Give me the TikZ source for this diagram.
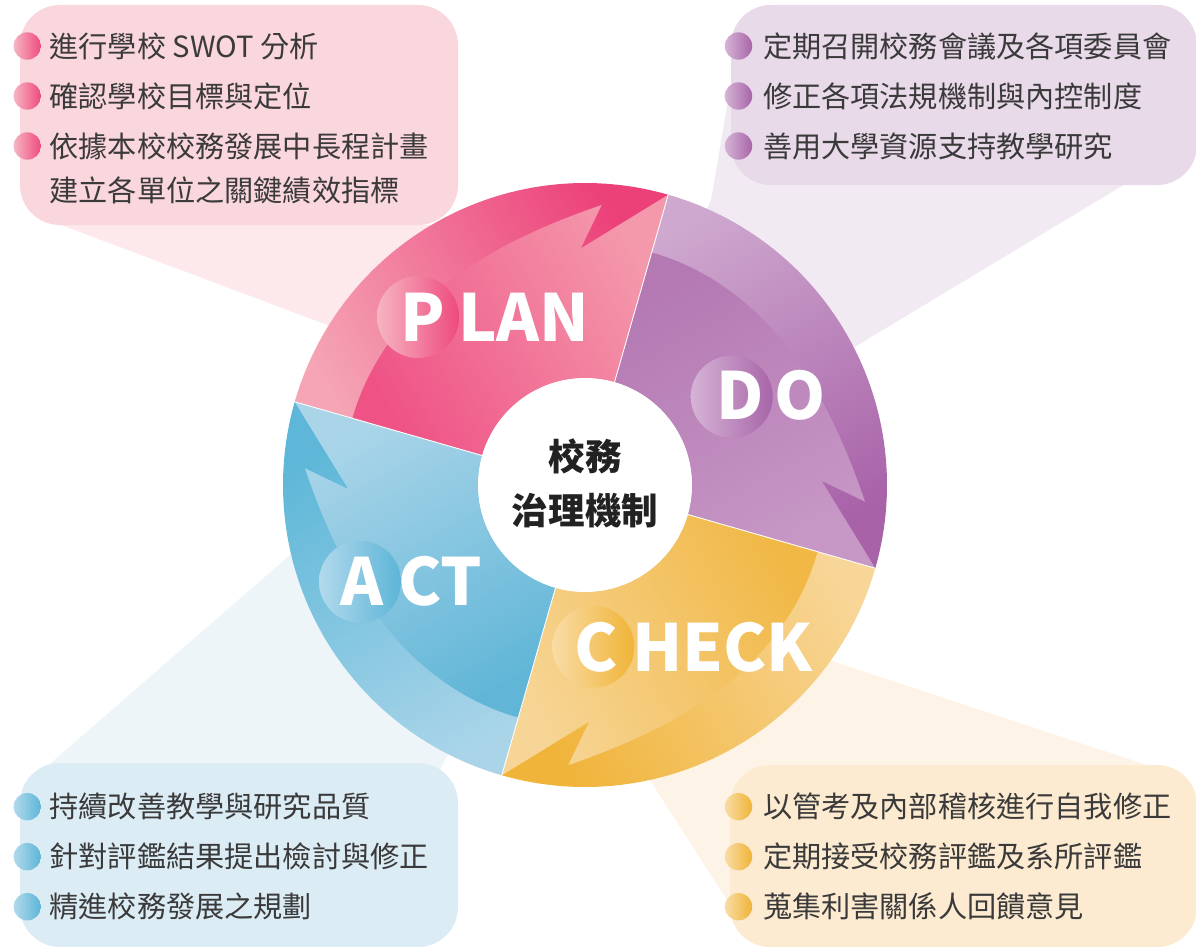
\documentclass[tikz,border=0pt]{standalone}
\usepackage{fontspec}
\newfontfamily\cjk{Noto Sans CJK TC}
\definecolor{txtc}{HTML}{3A3A3A}
\definecolor{ctext}{HTML}{222222}
% PLAN
\definecolor{plBandS}{HTML}{F5A5B5}\definecolor{plBandE}{HTML}{EC4079}
\definecolor{plShS}{HTML}{EF5386}\definecolor{plShE}{HTML}{F499AC}
\definecolor{plBL}{HTML}{F6B5C2}\definecolor{plBR}{HTML}{EE4A7E}
\definecolor{plBox}{HTML}{FAD6DD}\definecolor{plWedge}{HTML}{FDE8EC}
% DO
\definecolor{doBandS}{HTML}{CEA8CE}\definecolor{doBandE}{HTML}{A862A8}
\definecolor{doShS}{HTML}{B479B3}\definecolor{doShE}{HTML}{C798C6}
\definecolor{doBL}{HTML}{D6B4D6}\definecolor{doBR}{HTML}{A765A8}
\definecolor{doBox}{HTML}{E8DAE9}\definecolor{doWedge}{HTML}{F2EAF3}
% CHECK
\definecolor{chBandS}{HTML}{F8D698}\definecolor{chBandE}{HTML}{F0B43A}
\definecolor{chShS}{HTML}{F1B846}\definecolor{chShE}{HTML}{F7D596}
\definecolor{chBL}{HTML}{F9DCA6}\definecolor{chBR}{HTML}{F0B437}
\definecolor{chBox}{HTML}{FCEBD1}\definecolor{chWedge}{HTML}{FDF4E7}
% ACT
\definecolor{acBandS}{HTML}{AAD5E9}\definecolor{acBandE}{HTML}{5EB7D8}
\definecolor{acShS}{HTML}{61B6D7}\definecolor{acShE}{HTML}{AAD5E9}
\definecolor{acBL}{HTML}{B2D9EC}\definecolor{acBR}{HTML}{5CB5D7}
\definecolor{acBox}{HTML}{DCECF5}\definecolor{acWedge}{HTML}{EDF5F9}

\tikzset{
  itemtext/.style={anchor=base west, inner sep=0pt, text=txtc, font=\cjk\fontsize{16.6}{20}\selectfont},
  bigletter/.style={anchor=base, inner sep=0pt, text=white, font=\cjk\bfseries\fontsize{37}{40}\selectfont},
  bigrest/.style={bigletter, anchor=base west},
  centertext/.style={anchor=base, inner sep=0pt, text=ctext, font=\cjk\bfseries\fontsize{20.8}{24}\selectfont},
}

% #1 start angle, #2 band start, #3 band end, #4 shaft start, #5 shaft end, #6 shading angle
\newcommand{\cycseg}[6]{%
  \pgfmathsetmacro{\segE}{#1-90}%
  \pgfmathsetmacro{\segB}{#1-77.4}%
  \pgfmathsetmacro{\segN}{#1-73}%
  \shade[top color=#3, bottom color=#2, shading angle=#6]
    plot[domain=#1:\segE, samples=60] (\x:302) -- plot[domain=\segE:#1, samples=40] (\x:107) -- cycle;
  \shade[top color=#5, bottom color=#4, shading angle=#6]
    (#1:107) -- plot[domain=#1:\segB, samples=60] (\x:{242+38.5*((#1-\x)/77.4)^4})
    -- (\segN:236.7) -- (\segE:302) -- plot[domain=\segE:#1, samples=40] (\x:107) -- cycle;
}

\begin{document}
\begin{tikzpicture}[x=0.02cm, y=-0.02cm]
\useasboundingbox (0,0) rectangle (1196,946);

% callout wedges
\fill[plWedge] (56,223) -- (333,327) -- (585,485) -- (440,225) -- cycle;
\fill[doWedge] (735,60) -- (1127,183) -- (853,348) -- (585,485) -- (711,200) -- cycle;
\fill[acWedge] (45,768) -- (290,555) -- (585,485) -- (440,770) -- cycle;
\fill[chWedge] (585,485) -- (835,662) -- (1150,766) -- (730,905) -- (650,780) -- cycle;

% boxes
\fill[plBox, rounded corners=0.8cm] (20,5) rectangle (458,225);
\fill[doBox, rounded corners=0.8cm] (731,5) rectangle (1197,185);
\fill[acBox, rounded corners=0.8cm] (20,763) rectangle (458,947);
\fill[chBox, rounded corners=0.8cm] (730,765) rectangle (1197,947);

% cycle
\begin{scope}[shift={(585,485)}, y=0.02cm]
  \cycseg{164}{plBandS}{plBandE}{plShS}{plShE}{-61}
  \cycseg{74}{doBandS}{doBandE}{doShS}{doShE}{-151}
  \cycseg{-16}{chBandS}{chBandE}{chShS}{chShE}{119}
  \cycseg{254}{acBandS}{acBandE}{acShS}{acShE}{29}
  \foreach \a in {164,74,-16,254} \draw[white, line width=0.5pt] (\a:107) -- (\a:302);
  \fill[white] (0,0) circle[radius=2.14cm];
\end{scope}
\node[centertext] (c1) at (585,470.5) {校務};
\node[centertext] (c2) at (585,524) {治理機制};

% badges
\shade[left color=plBL, right color=plBR] (418,317) circle[radius=0.82cm];
\shade[left color=doBL, right color=doBR] (731.7,396.7) circle[radius=0.82cm];
\shade[left color=chBL, right color=chBR] (593.3,646.7) circle[radius=0.82cm];
\shade[left color=acBL, right color=acBR] (360,581.7) circle[radius=0.82cm];

\node[bigletter] (p1) at (423,341.7) {P};
\node[bigrest] (p2) at (458,341.7) {LAN};
\node[bigletter] (d1) at (739.7,419.3) {D};
\node[bigrest] (d2) at (774,419.3) {O};
\node[bigletter] (k1) at (596.3,671.7) {C};
\node[bigrest] (k2) at (632,671.7) {HECK};
\node[bigletter] (a1) at (362,605) {A};
\node[bigrest] (a2) at (398,605) {CT};

% bullets
\foreach \yy in {46,96,146} \shade[left color=plBL, right color=plBR] (27.3,\yy) circle[radius=0.274cm];
\foreach \yy in {46,96,146} \shade[left color=doBL, right color=doBR] (738.5,\yy) circle[radius=0.274cm];
\foreach \yy in {806.7,856.7,906.7} \shade[left color=acBL, right color=acBR] (27.3,\yy) circle[radius=0.274cm];
\foreach \yy in {806.7,856.7,906.7} \shade[left color=chBL, right color=chBR] (738.5,\yy) circle[radius=0.274cm];

% texts
\node[itemtext] (t11) at (49.3,57.7) {進行學校 SWOT 分析};
\node[itemtext] (t12) at (49.3,107.7) {確認學校目標與定位};
\node[itemtext] (t13) at (49.3,157.7) {依據本校校務發展中長程計畫};
\node[itemtext] (t14) at (49.3,201) {建立各單位之關鍵績效指標};

\node[itemtext] (t21) at (762.7,57.7) {定期召開校務會議及各項委員會};
\node[itemtext] (t22) at (762.7,107.7) {修正各項法規機制與內控制度};
\node[itemtext] (t23) at (762.7,157.7) {善用大學資源支持教學研究};

\node[itemtext] (t31) at (49.3,817.7) {持續改善教學與研究品質};
\node[itemtext] (t32) at (49.3,867.7) {針對評鑑結果提出檢討與修正};
\node[itemtext] (t33) at (49.3,917.7) {精進校務發展之規劃};

\node[itemtext] (t41) at (762.7,817.7) {以管考及內部稽核進行自我修正};
\node[itemtext] (t42) at (762.7,867.7) {定期接受校務評鑑及系所評鑑};
\node[itemtext] (t43) at (762.7,917.7) {蒐集利害關係人回饋意見};
\end{tikzpicture}
\end{document}
